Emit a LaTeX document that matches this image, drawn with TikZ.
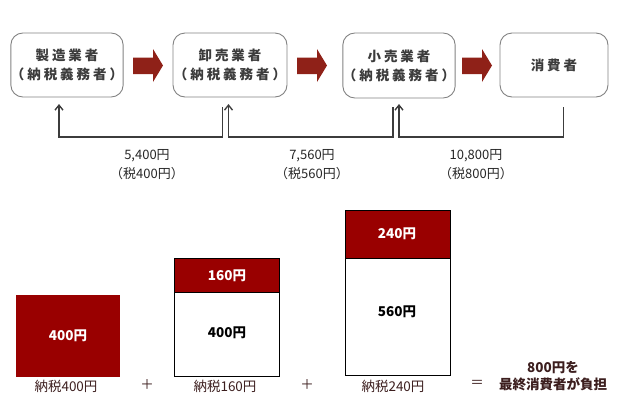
\documentclass[tikz,border=0pt]{standalone}
\usepackage{fontspec}
\setmainfont{Noto Sans CJK JP}
\newfontfamily\boxfont[LetterSpace=22]{Noto Sans CJK JP}
\newfontfamily\medfont{Noto Sans CJK JP}
\usetikzlibrary{arrows.meta}
\definecolor{arrowred}{RGB}{143,33,24}
\definecolor{barred}{RGB}{153,0,0}
\definecolor{boxgray}{RGB}{130,130,130}
\definecolor{txtgray}{RGB}{60,60,60}
\definecolor{labbrown}{RGB}{60,30,30}
\tikzset{
  party/.style={draw=boxgray, line width=0.9pt, rounded corners=12pt, inner sep=0pt,
    text=txtgray, font=\boxfont\bfseries\fontsize{13.5}{19}\selectfont, align=center},
  flow/.style={fill=arrowred, draw=none},
  pay/.style={draw=txtgray, line width=1.4pt, -{Straight Barb[length=5pt,width=8pt,line width=1.4pt]}},
  amount/.style={text=black!85, font=\medfont\fontsize{13}{15}\selectfont},
  redbar/.style={fill=barred, draw=none},
  whitebar/.style={fill=white, draw=black, line width=0.8pt},
  redbarframe/.style={fill=barred, draw=black, line width=0.8pt},
  barnum/.style={font=\bfseries\fontsize{13.5}{15}\selectfont},
  bottomlab/.style={text=labbrown, font=\medfont\fontsize{13.5}{15}\selectfont},
}
\begin{document}
\begin{tikzpicture}[x=1pt,y=-1pt]
\useasboundingbox (0,0) rectangle (630,400);

% parties
\node[party, minimum width=110pt, minimum height=64pt] (m) at (67,65) {製造業者\\（納税義務者）};
\node[party, minimum width=114pt, minimum height=64pt] (w) at (230,65) {卸売業者\\（納税義務者）};
\node[party, minimum width=112pt, minimum height=65pt] (r) at (399,65.5) {小売業者\\（納税義務者）};
\node[party, minimum width=108pt, minimum height=64pt] (c) at (554,65) {消費者};

% block arrows
\foreach \x in {133,297,462}{
  \fill[flow] (\x,57.5) -- (\x+20,57.5) -- (\x+20,49) -- (\x+30,65.5) -- (\x+20,82) -- (\x+20,74) -- (\x,74) -- cycle;
}

% payment lines
\coordinate (m1) at (59,104);
\coordinate (w0) at (222.5,107);
\coordinate (w1) at (228.5,104);
\coordinate (r0) at (393,107);
\coordinate (r1) at (399,104);
\coordinate (c0) at (563.5,107);
\draw[pay] (w0) |- (59,137) -- (m1);
\draw[pay] (r0) |- (228.5,137) -- (w1);
\draw[pay] (c0) |- (399,137) -- (r1);

% amounts
\node[amount] (a1) at (147,156) {5,400円};
\node[amount] (t1) at (147,174) {（税400円）};
\node[amount] (a2) at (312,156) {7,560円};
\node[amount] (t2) at (312,174) {（税560円）};
\node[amount] (a3) at (476,156) {10,800円};
\node[amount] (t3) at (476,174) {（税800円）};

% bars
\fill[redbar] (16,295) rectangle (120,377);
\node[barnum, text=white] (b1) at (68,336) {400円};

\draw[whitebar] (174,292) rectangle (279,376);
\draw[redbarframe] (174,258) rectangle (279,292);
\node[barnum, text=white] (b2t) at (227,276) {160円};
\node[barnum, text=black] (b2b) at (227,333) {400円};

\draw[whitebar] (345,258) rectangle (450,375);
\draw[redbarframe] (345,210) rectangle (450,258);
\node[barnum, text=white] (b3t) at (397,234) {240円};
\node[barnum, text=black] (b3b) at (397,312) {560円};

% bottom labels
\node[bottomlab] (l1) at (66,386) {納税400円};
\node[bottomlab] (p1) at (147,385) {＋};
\node[bottomlab] (l2) at (225,386) {納税160円};
\node[bottomlab] (p2) at (307,385) {＋};
\node[bottomlab] (l3) at (393,386) {納税240円};
\node[bottomlab] (eq) at (477,384) {＝};
\node[bottomlab, font=\bfseries\fontsize{13.5}{17}\selectfont, align=center] (res) at (553,376) {800円を\\最終消費者が負担};
\end{tikzpicture}
\end{document}
